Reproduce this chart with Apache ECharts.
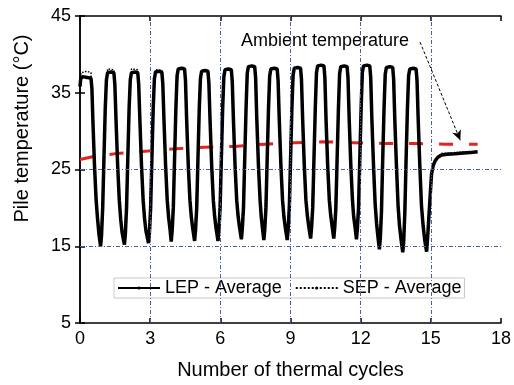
<!DOCTYPE html>
<html><head><meta charset="utf-8">
<script src="https://cdn.jsdelivr.net/npm/echarts@6/dist/echarts.min.js"></script>
<style>html,body{margin:0;padding:0;background:#fff}#c{width:514px;height:385px}</style>
</head><body><div id="c"></div>
<script>
var lepData = [
[0,35.8],[0.03,36.8],[0.10,37.1],[0.30,37.0],[0.47,36.9],[0.51,35.5],[0.55,31.5],[0.62,25.5],[0.69,21.0],[0.75,18.6],[0.81,16.6],[0.88,15.0],
[0.92,16.4],[0.97,20.0],[1.02,26.0],[1.08,33.0],[1.13,36.7],[1.18,37.6],[1.33,37.7],[1.45,37.6],[1.49,36.1],[1.54,31.5],[1.61,25.5],[1.68,21.0],[1.74,18.5],[1.80,16.8],[1.90,15.2],
[1.94,16.6],[1.99,20.0],[2.04,26.0],[2.10,33.0],[2.15,36.7],[2.20,37.6],[2.35,37.7],[2.47,37.6],[2.51,36.1],[2.56,31.5],[2.63,25.5],[2.70,21.0],[2.76,18.6],[2.82,17.0],[2.93,15.4],
[2.97,16.8],[3.02,20.0],[3.07,26.0],[3.13,33.0],[3.18,36.8],[3.23,37.7],[3.38,37.8],[3.50,37.7],[3.54,36.2],[3.59,31.5],[3.66,25.5],[3.73,21.0],[3.79,18.7],[3.85,17.2],[3.90,15.6],
[3.94,17.0],[3.99,20.0],[4.04,26.0],[4.10,33.0],[4.15,37.2],[4.20,38.1],[4.35,38.2],[4.47,38.1],[4.51,36.6],[4.56,31.5],[4.63,25.5],[4.70,21.0],[4.76,18.8],[4.82,17.3],[4.90,15.7],
[4.94,17.1],[4.99,20.0],[5.04,26.0],[5.10,33.0],[5.15,36.9],[5.20,37.8],[5.35,37.9],[5.47,37.8],[5.51,36.3],[5.56,31.5],[5.63,25.5],[5.70,21.0],[5.76,18.8],[5.82,17.3],[5.90,15.7],
[5.94,17.1],[5.99,20.0],[6.04,26.0],[6.10,33.0],[6.15,37.1],[6.20,38.0],[6.35,38.1],[6.47,38.0],[6.51,36.5],[6.56,31.5],[6.63,25.5],[6.70,21.0],[6.76,18.9],[6.82,17.5],[6.90,15.9],
[6.94,17.3],[6.99,20.0],[7.04,26.0],[7.10,33.0],[7.15,37.5],[7.20,38.4],[7.35,38.5],[7.47,38.4],[7.51,36.9],[7.56,31.5],[7.63,25.5],[7.70,21.0],[7.75,18.8],[7.80,17.4],[7.86,15.8],
[7.90,17.2],[7.95,20.0],[8.00,26.0],[8.06,33.0],[8.11,37.2],[8.16,38.1],[8.31,38.2],[8.43,38.1],[8.47,36.6],[8.52,31.5],[8.59,25.5],[8.66,21.0],[8.72,18.8],[8.78,17.4],[8.86,15.8],
[8.90,17.2],[8.95,20.0],[9.00,26.0],[9.06,33.0],[9.11,37.3],[9.16,38.2],[9.31,38.3],[9.43,38.2],[9.47,36.7],[9.52,31.5],[9.59,25.5],[9.66,21.0],[9.72,19.0],[9.78,17.6],[9.86,16.0],
[9.90,17.4],[9.95,20.0],[10.00,26.0],[10.06,33.0],[10.11,37.6],[10.16,38.5],[10.31,38.6],[10.43,38.5],[10.47,37.0],[10.52,31.5],[10.59,25.5],[10.66,21.0],[10.72,19.0],[10.78,17.6],[10.85,16.0],
[10.89,17.4],[10.94,20.0],[10.99,26.0],[11.05,33.0],[11.10,37.5],[11.15,38.4],[11.30,38.5],[11.42,38.4],[11.46,36.9],[11.51,31.5],[11.58,25.5],[11.65,21.0],[11.70,18.9],[11.76,17.5],[11.82,15.9],
[11.86,17.3],[11.91,20.0],[11.96,26.0],[12.02,33.0],[12.07,37.6],[12.12,38.5],[12.27,38.6],[12.39,38.5],[12.43,37.0],[12.48,31.5],[12.55,25.5],[12.62,20.5],[12.68,18.0],[12.74,16.2],[12.80,14.6],
[12.84,16.0],[12.89,19.5],[12.94,26.0],[13.00,33.0],[13.05,37.4],[13.10,38.3],[13.25,38.4],[13.37,38.3],[13.41,36.8],[13.46,31.5],[13.53,25.5],[13.60,20.3],[13.66,17.7],[13.73,15.8],[13.80,14.2],
[13.84,15.6],[13.89,19.5],[13.94,26.0],[14.00,33.0],[14.05,37.2],[14.10,38.1],[14.25,38.2],[14.37,38.1],[14.41,36.6],[14.46,31.5],[14.53,25.5],[14.60,20.3],[14.67,17.7],[14.74,15.8],[14.82,14.3],
[14.86,16.0],[14.92,19.0],[14.97,21.5],[15.03,24.4],[15.10,25.5],[15.18,26.1],[15.30,26.6],[15.46,26.9],[15.70,27.0],[16.03,27.05],[16.40,27.15],[16.70,27.2],[17.00,27.3]
];
var sepData = [
[0,36.2],[0.04,37.6],[0.30,37.8],[0.47,37.6],[0.55,32.0],[0.62,25.8],[0.75,19.0],[0.89,15.3],
[1.02,26.3],[1.10,34.5],[1.18,38.1],[1.45,38.0],[1.54,32.0],[1.68,21.4],[1.80,17.2],[1.91,15.5],
[2.04,26.3],[2.12,34.5],[2.20,38.1],[2.47,38.0],[2.56,32.0],[2.70,21.4],[2.82,17.4],[2.94,15.7],
[3.07,26.3],[3.15,34.5],[3.23,38.0],[3.50,37.9],[3.59,32.0],[3.73,21.4],[3.85,17.5],[3.91,15.9],
[4.04,26.3],[4.12,34.5],[4.20,38.2],[4.47,38.1],[4.56,32.0],[4.70,21.4],[4.82,17.6],[4.91,16.0],
[5.04,26.3],[5.12,34.5],[5.20,37.9],[5.47,37.8],[5.56,32.0],[5.70,21.4],[5.82,17.6],[5.91,16.0],
[6.04,26.3],[6.12,34.5],[6.20,38.1],[6.47,38.0],[6.56,32.0],[6.70,21.4],[6.82,17.8],[6.91,16.2],
[7.04,26.3],[7.12,34.5],[7.20,38.4],[7.47,38.3],[7.56,32.0],[7.70,21.4],[7.80,17.7],[7.87,16.1],
[8.00,26.3],[8.08,34.5],[8.16,38.2],[8.43,38.1],[8.52,32.0],[8.66,21.4],[8.78,17.7],[8.87,16.1],
[9.00,26.3],[9.08,34.5],[9.16,38.3],[9.43,38.2],[9.52,32.0],[9.66,21.4],[9.78,17.9],[9.87,16.3],
[10.00,26.3],[10.08,34.5],[10.16,38.5],[10.43,38.4],[10.52,32.0],[10.66,21.4],[10.78,17.9],[10.86,16.3],
[10.99,26.3],[11.07,34.5],[11.15,38.4],[11.42,38.3],[11.51,32.0],[11.65,21.4],[11.76,17.8],[11.83,16.2],
[11.96,26.3],[12.04,34.5],[12.12,38.5],[12.39,38.4],[12.48,32.0],[12.62,20.9],[12.74,16.5],[12.81,14.9],
[12.94,26.3],[13.02,34.5],[13.10,38.3],[13.37,38.2],[13.46,32.0],[13.60,20.6],[13.73,16.1],[13.81,14.5],
[13.94,26.3],[14.02,34.5],[14.10,38.1],[14.37,38.0],[14.46,32.0],[14.60,20.6],[14.74,16.1],[14.83,14.6],
[14.92,19.3],[15.03,24.7],[15.18,26.3],[15.46,27.1],[16.03,27.2],[16.50,27.3],[17.00,27.4]
];
var ambientData = [[0,26.3],[0.6,26.7],[1.6,27.1],[2.9,27.4],[4.1,27.7],[5.3,27.9],[6.6,28.0],[7.9,28.3],[9.2,28.5],[10.4,28.6],[11.7,28.5],[13.0,28.4],[14.2,28.4],[15.6,28.3],[17.0,28.3]];
var gridX = [3, 6, 9, 12, 15];
var gridY = [15, 25];
var arrowFrom = [14.54, 41.6];
var arrowTo = [16.26, 28.8];
var seriesNames = ['LEP - Average', 'SEP - Average'];
var annotationText = 'Ambient temperature';

var FONT = 'Liberation Sans, Arial, sans-serif';
var chart = echarts.init(document.getElementById('c'));
var gridLineData = gridX.map(function(v){return {xAxis:v};}).concat(gridY.map(function(v){return {yAxis:v};}));
var axisCommon = {
  min: 0, max: 18, interval: 3,
  axisLine: {lineStyle: {color: '#000', width: 1.5}},
  axisTick: {inside: true, length: 5, lineStyle: {color: '#000', width: 1.5}},
  splitLine: {show: false}
};
chart.setOption({
  animation: false,
  backgroundColor: '#fff',
  grid: {left: 80, right: 12, top: 16, bottom: 57},
  xAxis: [
    Object.assign({}, axisCommon, {type: 'value', position: 'bottom',
      name: 'Number of thermal cycles', nameLocation: 'middle', nameGap: 37,
      nameTextStyle: {fontFamily: FONT, fontSize: 20, color: '#000'},
      axisLabel: {fontFamily: FONT, fontSize: 18, color: '#000', margin: 7}}),
    Object.assign({}, axisCommon, {type: 'value', position: 'top', axisLabel: {show: false}})
  ],
  yAxis: [
    {type: 'value', min: 5, max: 45, interval: 10, position: 'left',
      name: 'Pile temperature (°C)', nameLocation: 'middle', nameGap: 48, nameRotate: 90,
      nameTextStyle: {fontFamily: FONT, fontSize: 20, color: '#000', padding: [0, 0, 0, 82]},
      axisLine: {show: true, lineStyle: {color: '#000', width: 1.5}},
      axisTick: {show: true, inside: true, length: 5, lineStyle: {color: '#000', width: 1.5}},
      axisLabel: {fontFamily: FONT, fontSize: 18, color: '#000', margin: 9},
      splitLine: {show: false}},
    {type: 'value', min: 5, max: 45, interval: 10, position: 'right',
      axisLine: {show: true, lineStyle: {color: '#000', width: 1.5}},
      axisTick: {show: true, inside: true, length: 5, lineStyle: {color: '#000', width: 1.5}},
      axisLabel: {show: false}, splitLine: {show: false}}
  ],
  legend: {
    data: seriesNames, left: 114, top: 278, orient: 'horizontal',
    itemWidth: 42, itemHeight: 4, itemGap: 13, padding: [1, 3, 1, 3],
    borderColor: '#c8c8c8', borderWidth: 1,
    textStyle: {fontFamily: FONT, fontSize: 18, color: '#000'}
  },
  graphic: [
    {type: 'text', left: 241, top: 32, style: {text: annotationText, font: '18px ' + FONT, fill: '#000'}}
  ],
  series: [
    {type: 'line', name: 'grid', data: [], silent: true, z: 1,
      markLine: {silent: true, symbol: ['none','none'], label: {show: false},
        lineStyle: {color: '#4a5cb5', width: 1, type: [4, 2, 1, 2]}, data: gridLineData}},
    {type: 'line', name: 'Ambient', data: ambientData, showSymbol: false, symbol: 'none', z: 3,
      lineStyle: {color: '#e3231c', width: 3, type: [14, 16]},
      markLine: {silent: true, symbol: ['none', 'arrow'], symbolSize: [7, 10], label: {show: false},
        lineStyle: {color: '#000', width: 1, type: [3, 2], curveness: 0.25},
        data: [[{coord: arrowFrom}, {coord: arrowTo}]]}},
    {type: 'line', name: seriesNames[0], data: lepData, showSymbol: false, symbol: 'none', z: 4,
      lineStyle: {color: '#000', width: 3.5}, itemStyle: {color: '#000'}},
    {type: 'line', name: seriesNames[1], data: sepData, showSymbol: false, symbol: 'none', z: 5,
      lineStyle: {color: '#000', width: 1.5, type: 'dotted'}, itemStyle: {color: '#000'}}
  ]
});
</script></body></html>
